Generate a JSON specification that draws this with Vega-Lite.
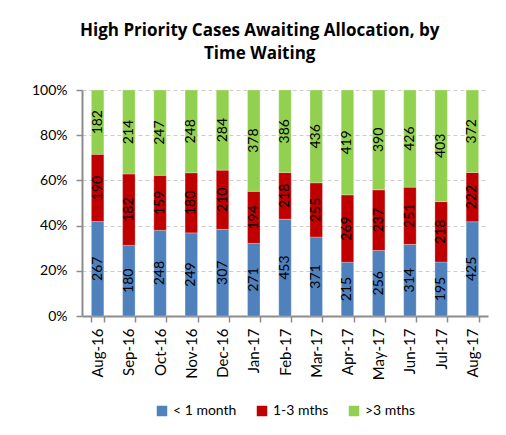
{
  "$schema": "https://vega.github.io/schema/vega-lite/v6.json",
  "width": 406,
  "height": 226,
  "padding": {"left": 31, "top": 22, "right": 13, "bottom": 10},
  "background": "white",
  "title": {
    "text": ["High Priority Cases Awaiting Allocation, by", "Time Waiting"],
    "font": "Open Sans",
    "fontSize": 17,
    "fontWeight": "bold",
    "color": "#000000",
    "anchor": "middle",
    "frame": "bounds",
    "lineHeight": 23,
    "offset": 20
  },
  "config": {
    "view": {"stroke": null},
    "font": "Lato",
    "legend": {"layout": {"bottom": {"anchor": "middle"}}}
  },
  "data": {
    "values": [
      {"m": "Aug-16", "c": "< 1 month", "v": 267}, {"m": "Aug-16", "c": "1-3 mths", "v": 190}, {"m": "Aug-16", "c": ">3 mths", "v": 182},
      {"m": "Sep-16", "c": "< 1 month", "v": 180}, {"m": "Sep-16", "c": "1-3 mths", "v": 182}, {"m": "Sep-16", "c": ">3 mths", "v": 214},
      {"m": "Oct-16", "c": "< 1 month", "v": 248}, {"m": "Oct-16", "c": "1-3 mths", "v": 159}, {"m": "Oct-16", "c": ">3 mths", "v": 247},
      {"m": "Nov-16", "c": "< 1 month", "v": 249}, {"m": "Nov-16", "c": "1-3 mths", "v": 180}, {"m": "Nov-16", "c": ">3 mths", "v": 248},
      {"m": "Dec-16", "c": "< 1 month", "v": 307}, {"m": "Dec-16", "c": "1-3 mths", "v": 210}, {"m": "Dec-16", "c": ">3 mths", "v": 284},
      {"m": "Jan-17", "c": "< 1 month", "v": 271}, {"m": "Jan-17", "c": "1-3 mths", "v": 194}, {"m": "Jan-17", "c": ">3 mths", "v": 378},
      {"m": "Feb-17", "c": "< 1 month", "v": 453}, {"m": "Feb-17", "c": "1-3 mths", "v": 218}, {"m": "Feb-17", "c": ">3 mths", "v": 386},
      {"m": "Mar-17", "c": "< 1 month", "v": 371}, {"m": "Mar-17", "c": "1-3 mths", "v": 255}, {"m": "Mar-17", "c": ">3 mths", "v": 436},
      {"m": "Apr-17", "c": "< 1 month", "v": 215}, {"m": "Apr-17", "c": "1-3 mths", "v": 269}, {"m": "Apr-17", "c": ">3 mths", "v": 419},
      {"m": "May-17", "c": "< 1 month", "v": 256}, {"m": "May-17", "c": "1-3 mths", "v": 237}, {"m": "May-17", "c": ">3 mths", "v": 390},
      {"m": "Jun-17", "c": "< 1 month", "v": 314}, {"m": "Jun-17", "c": "1-3 mths", "v": 251}, {"m": "Jun-17", "c": ">3 mths", "v": 426},
      {"m": "Jul-17", "c": "< 1 month", "v": 195}, {"m": "Jul-17", "c": "1-3 mths", "v": 218}, {"m": "Jul-17", "c": ">3 mths", "v": 403},
      {"m": "Aug-17", "c": "< 1 month", "v": 425}, {"m": "Aug-17", "c": "1-3 mths", "v": 222}, {"m": "Aug-17", "c": ">3 mths", "v": 372}
    ]
  },
  "transform": [
    {"calculate": "indexof(['< 1 month','1-3 mths','>3 mths'], datum.c)", "as": "k"},
    {"stack": "v", "groupby": ["m"], "offset": "normalize", "sort": [{"field": "k", "order": "ascending"}], "as": ["y0", "y1"]},
    {"calculate": "(datum.y0 + datum.y1) / 2", "as": "ym"}
  ],
  "encoding": {
    "x": {
      "field": "m",
      "type": "nominal",
      "sort": null,
      "title": null,
      "scale": {"paddingInner": 0.6, "paddingOuter": 0.3},
      "axis": {
        "labelAngle": -90,
        "labelFont": "Lato",
        "labelFontSize": 15,
        "labelColor": "#000000",
        "labelPadding": 6,
        "tickBand": "extent",
        "domainColor": "#8c8c8c",
        "domainWidth": 2,
        "tickColor": "#8c8c8c",
        "tickWidth": 1.5,
        "tickSize": 6
      }
    }
  },
  "layer": [
    {
      "mark": {"type": "bar", "stroke": "white", "strokeWidth": 0.5, "strokeOpacity": 0.5},
      "encoding": {
        "y": {
          "field": "y1",
          "type": "quantitative",
          "title": null,
          "scale": {"domain": [0, 1], "nice": false},
          "axis": {
            "format": ".0%",
            "values": [0, 0.2, 0.4, 0.6, 0.8, 1],
            "labelFont": "Lato",
            "labelFontSize": 14,
            "labelColor": "#000000",
            "labelPadding": 9,
            "grid": true,
            "gridColor": "#cccccc",
            "gridDash": [4, 3],
            "domainColor": "#8c8c8c",
            "domainWidth": 2,
            "tickColor": "#8c8c8c",
            "tickSize": 6,
            "tickWidth": 1.5
          }
        },
        "y2": {"field": "y0"},
        "color": {
          "field": "c",
          "type": "nominal",
          "scale": {"domain": ["< 1 month", "1-3 mths", ">3 mths"], "range": ["#4F81BD", "#C00000", "#92D050"]},
          "legend": {
            "title": null,
            "orient": "bottom",
            "direction": "horizontal",
            "symbolType": "square",
            "symbolSize": 110,
            "symbolStrokeWidth": 0,
            "labelFont": "Lato",
            "labelFontSize": 14,
            "labelColor": "#000000",
            "columnPadding": 18,
            "offset": 24
          }
        }
      }
    },
    {
      "mark": {"type": "text", "angle": 270, "font": "Lato", "fontSize": 14, "color": "#000000", "align": "center", "baseline": "middle"},
      "encoding": {
        "y": {"field": "ym", "type": "quantitative"},
        "text": {"field": "v", "type": "quantitative"}
      }
    }
  ]
}
